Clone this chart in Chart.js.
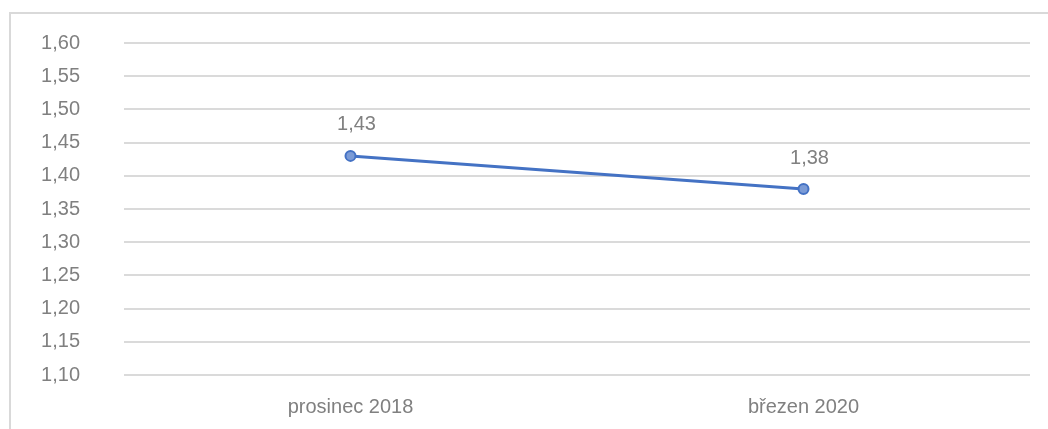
<!DOCTYPE html>
<html>
<head>
<meta charset="utf-8">
<script src="https://cdn.jsdelivr.net/npm/chart.js@4/dist/chart.umd.min.js"></script>
<style>
  html, body { margin: 0; padding: 0; background: #fff; }
  #wrap { position: relative; width: 1048px; height: 429px; }
  #frame {
    position: absolute; left: 9px; top: 12px; right: -10px; bottom: -10px;
    border-left: 2px solid #d9d9d9; border-top: 2px solid #d9d9d9;
  }
  canvas { position: absolute; left: 0; top: 0; }
</style>
</head>
<body>
<div id="wrap">
  <div id="frame"></div>
  <canvas id="mainChart" width="1048" height="429"></canvas>
</div>
<script>
const labels = ["prosinec 2018", "březen 2020"];
const values = [1.43, 1.38];
const yMin = 1.10;
const yMax = 1.60;
const yStep = 0.05;

const fontFamily = "'Liberation Sans', 'Open Sans', sans-serif";
const textColor = '#808080';

function czNumber(v) {
  return Number(v).toFixed(2).replace('.', ',');
}

// value labels above the points
const pointLabels = {
  id: 'pointLabels',
  afterDatasetsDraw(chart) {
    const ctx = chart.ctx;
    const meta = chart.getDatasetMeta(0);
    ctx.save();
    ctx.font = '20px ' + fontFamily;
    ctx.fillStyle = textColor;
    ctx.textAlign = 'center';
    ctx.textBaseline = 'middle';
    meta.data.forEach((pt, i) => {
      ctx.fillText(czNumber(values[i]), pt.x + 6, pt.y - 31);
    });
    ctx.restore();
  }
};

let ctx = document.getElementById('mainChart').getContext('2d');
let chart = new Chart(ctx, {
  type: 'line',
  data: {
    labels: labels,
    datasets: [{
      data: values,
      borderColor: '#4472c4',
      borderWidth: 3,
      backgroundColor: '#7b9bd6',
      pointBackgroundColor: '#7b9bd6',
      pointBorderColor: '#4472c4',
      pointBorderWidth: 2,
      pointRadius: 5,
      tension: 0,
      fill: false
    }]
  },
  options: {
    responsive: false,
    animation: false,
    layout: { padding: { top: 43, right: 18, bottom: 0, left: 0 } },
    plugins: {
      legend: { display: false },
      tooltip: { enabled: false }
    },
    scales: {
      x: {
        offset: true,
        grid: { display: false, drawTicks: false },
        border: { display: false },
        ticks: {
          color: textColor,
          font: { family: fontFamily, size: 20 },
          padding: 20,
          maxRotation: 0
        },
        afterFit(scale) { scale.height = 54; }
      },
      y: {
        min: yMin,
        max: yMax,
        grid: { color: '#dadada', lineWidth: 2, drawTicks: false },
        border: { display: false },
        ticks: {
          stepSize: yStep,
          color: textColor,
          font: { family: fontFamily, size: 20 },
          padding: 44,
          callback: (v) => czNumber(v)
        },
        afterFit(scale) {
          scale.width = 124;
          // tick padding would otherwise also push the plot down from the top
          scale.paddingTop = 0;
          scale.paddingBottom = 0;
        }
      }
    }
  },
  plugins: [pointLabels]
});
</script>
</body>
</html>
